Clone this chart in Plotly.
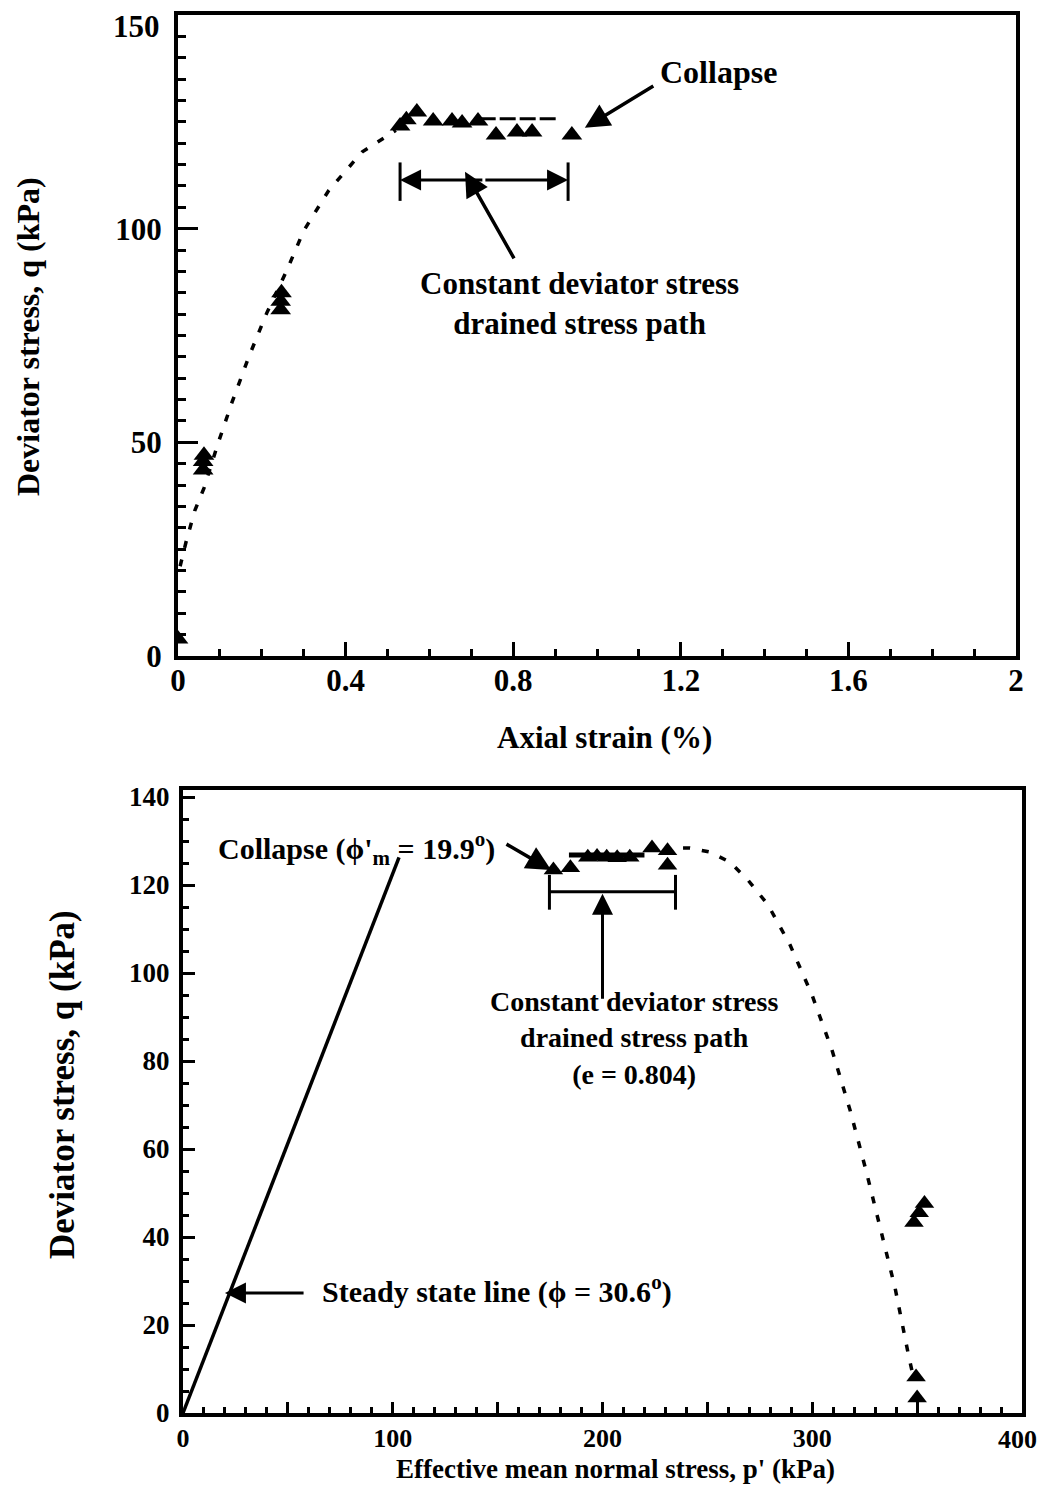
import plotly.graph_objects as go

# ---------------- Top panel: q vs axial strain ----------------
strain_pts = [0.0, 0.06, 0.06, 0.062, 0.245, 0.245, 0.247, 0.53, 0.545, 0.57, 0.609,
              0.654, 0.678, 0.716, 0.759, 0.809, 0.845, 0.94]
q_top_pts = [4, 43.5, 45.5, 47, 81, 83, 85, 124, 125.5, 127.3, 125.2,
             125.2, 124.7, 125.2, 121.9, 122.6, 122.6, 121.9]
curve_strain = [0.005, 0.02, 0.04, 0.062, 0.095, 0.129, 0.169, 0.212, 0.26, 0.30,
                0.36, 0.44, 0.52]
curve_q_top = [21, 27, 34, 39.3, 49.6, 59.4, 70, 80.3, 90.3, 99.5, 109, 118, 123]
plateau_strain = [0.72, 0.905]
plateau_q = [125.7, 125.7]

# ---------------- Bottom panel: q vs p' ----------------
p_pts = [176.6, 184.7, 193, 197.4, 202, 207, 213, 223.6, 231, 231, 349.5, 350, 348.5, 351, 353.5]
q_bot_pts = [123.4, 123.9, 126.3, 126.5, 126.3, 126.2, 126.3, 128.4, 127.8, 124.5, 8.2, 3.4, 43.3, 45.5, 47.6]
curve_p = [238.4, 241.7, 251.3, 260.8, 269.4, 278.9, 289.4, 299.9, 309.4, 318.0, 325.6,
           332.3, 339.5, 345.7, 348.0]
curve_q_bot = [128.4, 128.4, 127.5, 125.2, 121.1, 115.5, 106.4, 95.0, 82.5, 68.9, 55.2,
               42.3, 28.4, 13.6, 8.6]
ssl_p = [0, 103]
ssl_q = [0, 126.3]
path_p = [184, 220]
path_q = [126.8, 126.8]

x_top_ticks = [0, 0.4, 0.8, 1.2, 1.6, 2]
x_top_labels = ["0", "0.4", "0.8", "1.2", "1.6", "2"]
y_top_ticks = [0, 50, 100, 150]
y_top_labels = ["0", "50", "100", ""]      # "150" drawn as an edge label below
x_bot_ticks = [0, 50, 100, 150, 200, 250, 300, 350, 400]
x_bot_labels = ["0", "", "100", "", "200", "", "300", "", ""]  # "400" drawn as an edge label
y_bot_ticks = [0, 20, 40, 60, 80, 100, 120, 140]

FONT = "Liberation Serif"
PAGE_W, PAGE_H = 1047, 1494
OFF = 8  # default page body margin
W, H = PAGE_W - 2 * OFF, PAGE_H - 2 * OFF

fig = go.Figure()
black = "black"
DASH = "7px,12px"

fig.add_trace(go.Scatter(x=curve_strain, y=curve_q_top, mode="lines",
                         line=dict(color=black, width=3.5, dash=DASH),
                         xaxis="x", yaxis="y", showlegend=False))
fig.add_trace(go.Scatter(x=plateau_strain, y=plateau_q, mode="lines",
                         line=dict(color=black, width=3, dash="16px,4px"),
                         xaxis="x", yaxis="y", showlegend=False))
fig.add_trace(go.Scatter(x=strain_pts, y=q_top_pts, mode="markers",
                         marker=dict(symbol="triangle-up", size=18, color=black),
                         xaxis="x", yaxis="y", showlegend=False))

fig.add_trace(go.Scatter(x=ssl_p, y=ssl_q, mode="lines",
                         line=dict(color=black, width=3.5),
                         xaxis="x2", yaxis="y2", showlegend=False))
fig.add_trace(go.Scatter(x=curve_p, y=curve_q_bot, mode="lines",
                         line=dict(color=black, width=3.5, dash=DASH),
                         xaxis="x2", yaxis="y2", showlegend=False))
fig.add_trace(go.Scatter(x=path_p, y=path_q, mode="lines",
                         line=dict(color=black, width=5),
                         xaxis="x2", yaxis="y2", showlegend=False))
fig.add_trace(go.Scatter(x=p_pts, y=q_bot_pts, mode="markers",
                         marker=dict(symbol="triangle-up", size=17, color=black),
                         xaxis="x2", yaxis="y2", showlegend=False))

def px(x):
    return (x - OFF) / W

def py(y):
    return 1 - (y - OFF) / H

axis_common = dict(showgrid=False, zeroline=False, showline=True, linecolor=black,
                   linewidth=4, mirror=True, ticks="inside", tickcolor=black,
                   tickwidth=2.5, automargin=False, ticklabeloverflow="allow")

fig.update_layout(
    width=W, height=H, paper_bgcolor="white", plot_bgcolor="white",
    margin=dict(l=0, r=0, t=0, b=0),
    font=dict(family=FONT, color=black, size=28, weight="bold"),
    xaxis=dict(domain=[px(178), px(1016)], range=[0, 2], anchor="y",
               tickvals=x_top_ticks, ticktext=x_top_labels, ticklen=14,
               tickfont=dict(size=31), ticklabelstandoff=-6,
               minor=dict(dtick=0.1, ticklen=7, ticks="inside", tickwidth=2.5, tickcolor=black),
               **axis_common),
    yaxis=dict(domain=[py(656), py(15)], range=[0, 150], anchor="x",
               tickvals=y_top_ticks, ticktext=y_top_labels, ticklen=20,
               tickfont=dict(size=31), ticklabelstandoff=6,
               minor=dict(dtick=5, ticklen=8, ticks="inside", tickwidth=2.5, tickcolor=black),
               **axis_common),
    xaxis2=dict(domain=[px(183), px(1022)], range=[0, 400], anchor="y2",
                tickvals=x_bot_ticks, ticktext=x_bot_labels, ticklen=11,
                tickfont=dict(size=26), ticklabelstandoff=-1,
                minor=dict(dtick=10, ticklen=6, ticks="inside", tickwidth=2.5, tickcolor=black),
                **axis_common),
    yaxis2=dict(domain=[py(1413), py(790)], range=[0, 141.6], anchor="x2",
                tickvals=y_bot_ticks, ticklen=12,
                tickfont=dict(size=27), ticklabelstandoff=4,
                minor=dict(dtick=5, ticklen=6, ticks="inside", tickwidth=2.5, tickcolor=black),
                **axis_common),
)

# Edge tick labels kept inside the page
fig.add_annotation(text="150", x=px(162), y=150, xref="paper", yref="y", xanchor="right",
                   yanchor="middle", yshift=-12, showarrow=False, font=dict(size=31))
fig.add_annotation(text="400", x=1.0, y=0, xref="paper", yref="y2", xanchor="right",
                   yanchor="top", yshift=-10, showarrow=False, font=dict(size=26))

# Axis titles
titles = [
    ("Axial strain (%)", px(604), py(737), 0, 31),
    ("Deviator stress, q (kPa)", px(28), py(337), -90, 32),
    ("Effective mean normal stress, p' (kPa)", px(615), py(1469), 0, 27),
    ("Deviator stress, q (kPa)", px(62), py(1085), -90, 35),
]
for t, x, y, ang, sz in titles:
    fig.add_annotation(text=t, x=x, y=y, xref="paper", yref="paper", showarrow=False,
                       textangle=ang, font=dict(size=sz), xanchor="center", yanchor="middle")

# Top panel annotations
fig.add_annotation(text="Collapse", x=1.289, y=136.7, xref="x", yref="y",
                   showarrow=False, font=dict(size=32))
fig.add_annotation(text="", x=0.971, y=123.6, ax=1.138, ay=133.6, xref="x", yref="y",
                   axref="x", ayref="y", showarrow=True, arrowhead=2, arrowsize=1.4,
                   arrowwidth=3.5, arrowcolor=black)
fig.add_annotation(text="Constant deviator stress<br>drained stress path", x=0.959, y=82.6,
                   xref="x", yref="y", showarrow=False, font=dict(size=31))
fig.add_annotation(text="", x=0.685, y=113.3, ax=0.804, ay=92.7, xref="x", yref="y",
                   axref="x", ayref="y", showarrow=True, arrowhead=2, arrowsize=1.4,
                   arrowwidth=3.5, arrowcolor=black)
for xh in (0.53, 0.931):
    fig.add_annotation(text="", x=xh, y=111.4, ax=0.73, ay=111.4, xref="x", yref="y",
                       axref="x", ayref="y", showarrow=True, arrowhead=2, arrowsize=1.4,
                       arrowwidth=3, arrowcolor=black)
    fig.add_shape(type="line", x0=xh, x1=xh, y0=106.5, y1=115.5, xref="x", yref="y",
                  line=dict(color=black, width=3))

# Bottom panel annotations
fig.add_annotation(text="Collapse (ϕ'<sub>m</sub> = 19.9<sup>o</sup>)", x=82.5, y=128.4,
                   xref="x2", yref="y2", showarrow=False, font=dict(size=30))
fig.add_annotation(text="", x=175.5, y=123.4, ax=153.5, ay=129.5, xref="x2", yref="y2",
                   axref="x2", ayref="y2", showarrow=True, arrowhead=2, arrowsize=1.4,
                   arrowwidth=3.5, arrowcolor=black)
fig.add_annotation(text="Steady state line (ϕ = 30.6<sup>o</sup>)", x=149.7, y=28,
                   xref="x2", yref="y2", showarrow=False, font=dict(size=30))
fig.add_annotation(text="", x=20, y=27.3, ax=58.2, ay=27.3, xref="x2", yref="y2",
                   axref="x2", ayref="y2", showarrow=True, arrowhead=2, arrowsize=1.4,
                   arrowwidth=3, arrowcolor=black)
fig.add_annotation(text="Constant deviator stress<br>drained stress path<br>(e = 0.804)",
                   x=215, y=85.2, xref="x2", yref="y2", showarrow=False, font=dict(size=28))
fig.add_annotation(text="", x=200, y=118, ax=200, ay=93.8, xref="x2", yref="y2",
                   axref="x2", ayref="y2", showarrow=True, arrowhead=2, arrowsize=1.4,
                   arrowwidth=3, arrowcolor=black)
fig.add_shape(type="line", x0=174.7, x1=234.8, y0=118.5, y1=118.5, xref="x2", yref="y2",
              line=dict(color=black, width=3))
for xb in (174.7, 234.8):
    fig.add_shape(type="line", x0=xb, x1=xb, y0=114.4, y1=122.3, xref="x2", yref="y2",
                  line=dict(color=black, width=3))

fig.write_html("out.html")
